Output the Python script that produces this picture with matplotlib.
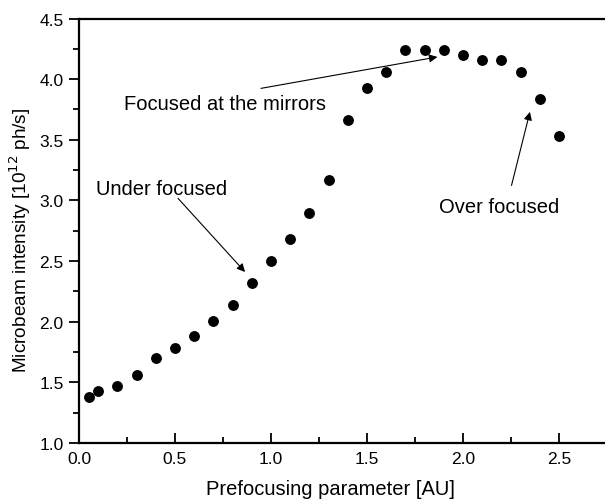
import matplotlib
matplotlib.use("Agg")
import matplotlib.pyplot as plt
from matplotlib.ticker import MultipleLocator

plt.rcParams['font.family'] = ['Liberation Sans', 'DejaVu Sans']

# prefocusing parameter vs. microbeam intensity (10^12 ph/s)
prefocus = [0.05, 0.1, 0.2, 0.3, 0.4, 0.5, 0.6, 0.7, 0.8, 0.9, 1.0,
            1.1, 1.2, 1.3, 1.4, 1.5, 1.6, 1.7, 1.8, 1.9, 2.0,
            2.1, 2.2, 2.3, 2.4, 2.5]
intensity = [1.38, 1.43, 1.47, 1.56, 1.70, 1.78, 1.88, 2.01, 2.14, 2.32, 2.50,
             2.68, 2.90, 3.17, 3.66, 3.93, 4.06, 4.24, 4.24, 4.24, 4.20,
             4.155, 4.155, 4.06, 3.84, 3.53]

fig = plt.figure(figsize=(6.05, 5.02), dpi=100)
ax = fig.add_axes([79 / 605, 58 / 502, 1 - 79 / 605, (444 - 19.5) / 502])

ax.plot(prefocus, intensity, 'o', color='black', markersize=6.8)

ax.set_xlim(0, 2.74)
ax.set_ylim(1.0, 4.5)
ax.xaxis.set_major_locator(MultipleLocator(0.5))
ax.xaxis.set_minor_locator(MultipleLocator(0.25))
ax.yaxis.set_major_locator(MultipleLocator(0.5))
ax.yaxis.set_minor_locator(MultipleLocator(0.25))
ax.xaxis.set_major_formatter('{x:.1f}')
ax.yaxis.set_major_formatter('{x:.1f}')

ax.tick_params(axis='x', which='both', direction='in', labelsize=12.5, pad=6)
ax.tick_params(axis='y', which='both', direction='out', labelsize=12.5, pad=4)
ax.tick_params(which='major', length=7, width=1.3)
ax.tick_params(which='minor', length=4, width=1.3)
ax.spines['right'].set_visible(False)
for s in ['left', 'bottom', 'top']:
    ax.spines[s].set_linewidth(1.6)

ax.set_xlabel('Prefocusing parameter [AU]', fontsize=14.5)
ax.set_ylabel(r'Microbeam intensity [10$^{12}$ ph/s]', fontsize=13.7)
ax.xaxis.set_label_coords(0.478, -0.085)
ax.yaxis.set_label_coords(-0.088, 0.481)

arrow = dict(arrowstyle='-|>', color='black', lw=0.8, mutation_scale=12, shrinkA=0, shrinkB=0)
ax.annotate('Under focused', xy=(0.865, 2.41), xytext=(0.089, 3.10),
            fontsize=14.5, va='center', ha='left')
ax.annotate('', xy=(0.865, 2.41), xytext=(0.516, 3.017), arrowprops=arrow)
ax.annotate('Focused at the mirrors', xy=(1.867, 4.183), xytext=(0.234, 3.80),
            fontsize=14.5, va='center', ha='left')
ax.annotate('', xy=(1.867, 4.183), xytext=(0.948, 3.924), arrowprops=arrow)
ax.annotate('Over focused', xy=(2.349, 3.73), xytext=(1.875, 2.95),
            fontsize=14.5, va='center', ha='left')
ax.annotate('', xy=(2.349, 3.73), xytext=(2.253, 3.124), arrowprops=arrow)

fig.savefig('out.png', dpi=100)
